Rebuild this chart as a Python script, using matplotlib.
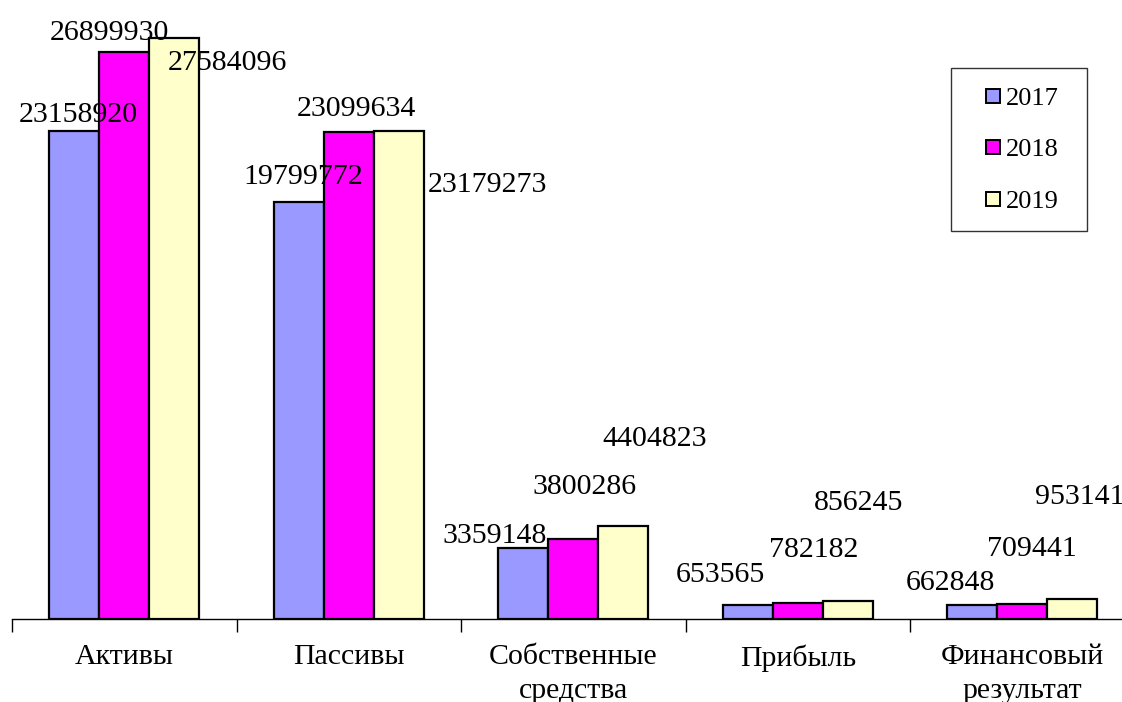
import matplotlib
matplotlib.use("Agg")
import matplotlib.pyplot as plt
import numpy as np
from matplotlib.lines import Line2D

# --- data ---
categories = ["Активы", "Пассивы", "Собственные\nсредства", "Прибыль",
              "Финансовый\nрезультат"]
years = ["2017", "2018", "2019"]
values_2017 = [23158920, 19799772, 3359148, 653565, 662848]
values_2018 = [26899930, 23099634, 3800286, 782182, 709441]
values_2019 = [27584096, 23179273, 4404823, 856245, 953141]

# --- style ---
COLORS = ["#9999FF", "#FF00FF", "#FFFFCC"]
# label centre offsets from bar top (pixels, right / up), as placed in the original
LABEL_OFFSETS = [
    [(4, 20), (4, 28), (-29, 16), (-27, 34), (-22, 26)],
    [(-15, 23), (8, 27), (11, 55), (16, 56), (10, 59)],
    [(53, -22), (89, -51), (31, 91), (11, 101), (7, 105)],
]
FS = 21.5
DIGIT_H = 21  # px, used to centre labels on their digits

plt.rcParams.update({
    "font.family": "serif",
    "font.serif": ["Liberation Serif", "DejaVu Serif"],
    "font.size": FS,
})

W, H = 1122, 702
fig = plt.figure(figsize=(W / 100, H / 100), dpi=100)
# plot area runs slightly past the right edge, like the source export
ax = fig.add_axes([12 / W, (H - 619) / H, 1122.5 / W, 632 / H])

series = [values_2017, values_2018, values_2019]
x = np.arange(len(categories))
bw = 50 / 224.5
for i, (vals, col) in enumerate(zip(series, COLORS)):
    bars = ax.bar(x + (i - 1) * bw, vals, width=bw, color=col,
                  edgecolor="black", linewidth=1.6, zorder=2)
    for bar, v, (dx, dy) in zip(bars, vals, LABEL_OFFSETS[i]):
        ax.annotate(f"{v}", (bar.get_x() + bar.get_width() / 2, v),
                    xytext=(dx, dy - DIGIT_H / 2), textcoords="offset pixels",
                    ha="center", va="baseline", fontsize=FS, color="black",
                    annotation_clip=False, zorder=3)

ax.set_xlim(-0.5, len(categories) - 0.5)
ax.set_ylim(0, 30e6)

for side in ("top", "right", "left"):
    ax.spines[side].set_visible(False)
ax.spines["bottom"].set_color("black")
ax.spines["bottom"].set_linewidth(1.0)
ax.set_yticks([])

# boundary ticks between categories, labels at category centres
ax.set_xticks(np.arange(len(categories) + 1) - 0.5)
ax.set_xticklabels([])
ax.tick_params(axis="x", which="major", length=9, width=1.0, color="black",
               direction="out")
ax.set_xticks(x, minor=True)
ax.set_xticklabels(categories, minor=True, fontsize=FS, linespacing=1.4)
ax.tick_params(axis="x", which="minor", length=0, pad=18)

handles = [Line2D([], [], linestyle="none", marker="s", markersize=10,
                  markerfacecolor=c, markeredgecolor="black",
                  markeredgewidth=1.4) for c in COLORS]
leg = fig.legend(handles, years, loc="upper left", mode="expand",
                 bbox_to_anchor=(951 / W, 1 - 227 / H, 136 / W, 159 / H),
                 borderaxespad=0, fontsize=19, frameon=True, fancybox=False,
                 edgecolor="black", borderpad=0.7, handlelength=1.75,
                 handletextpad=-0.38, labelspacing=1.06)
leg.get_frame().set_linewidth(1.0)

fig.savefig("out.png", dpi=100, facecolor="white")
